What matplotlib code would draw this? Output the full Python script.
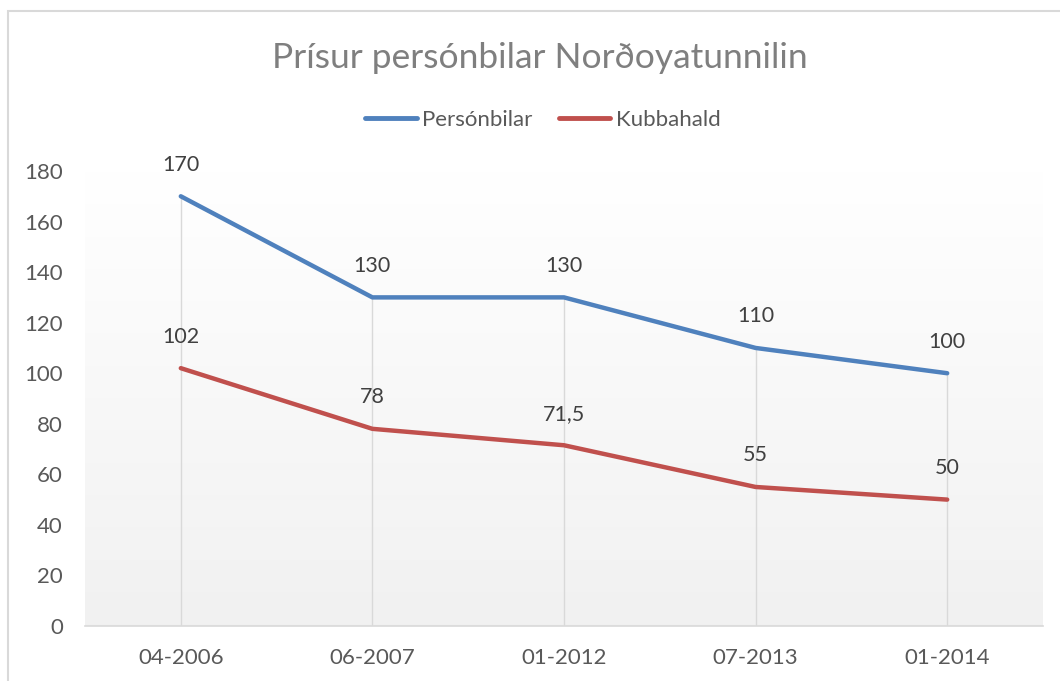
import matplotlib
matplotlib.use("Agg")
import matplotlib.pyplot as plt
import numpy as np
from matplotlib.patches import Rectangle
from matplotlib.lines import Line2D

categories = ["04-2006", "06-2007", "01-2012", "07-2013", "01-2014"]
personbilar = [170, 130, 130, 110, 100]
kubbahald = [102, 78, 71.5, 55, 50]
labels_p = ["170", "130", "130", "110", "100"]
labels_k = ["102", "78", "71,5", "55", "50"]
yticks = [0, 20, 40, 60, 80, 100, 120, 140, 160, 180]

plt.rcParams['font.family'] = ['Lato', 'DejaVu Sans']

W, H = 1060, 681
fig = plt.figure(figsize=(W / 100, H / 100), dpi=100)
fig.patch.set_facecolor("white")

# outer chart border
fig.add_artist(Rectangle((7.5 / W, -0.05), 1.2, 1 - 11.5 / H + 0.05,
                         transform=fig.transFigure, fill=False,
                         edgecolor="#D9D9D9", linewidth=1.5))

ax = fig.add_axes([85 / W, 1 - 626 / H, (1043 - 85) / W, (626 - 171) / H])
x = np.arange(len(categories))
ax.set_xlim(-0.5, len(categories) - 0.5)
ax.set_ylim(0, 180)

# gradient background
grad = np.linspace(0.945, 1.0, 256).reshape(-1, 1)
img = np.dstack([grad, grad, grad])
ax.imshow(img, extent=[-0.5, len(categories) - 0.5, 0, 180], origin="lower",
          aspect="auto", zorder=0)

# drop lines
for xi, yi in zip(x, personbilar):
    ax.plot([xi, xi], [0, yi], color="#D9D9D9", linewidth=1.0, zorder=1)

ax.plot(x, personbilar, color="#4F81BD", linewidth=3.2, solid_capstyle="round",
        solid_joinstyle="round", zorder=3, label="Persónbilar")
ax.plot(x, kubbahald, color="#C0504D", linewidth=3.2, solid_capstyle="round",
        solid_joinstyle="round", zorder=3, label="Kubbahald")

for xi, yi, t in zip(x, personbilar, labels_p):
    ax.annotate(t, (xi, yi), xytext=(0, 15.5), textcoords="offset points",
                ha="center", va="bottom", fontsize=15.5, color="#404040",
                annotation_clip=False)
for xi, yi, t in zip(x, kubbahald, labels_k):
    ax.annotate(t, (xi, yi), xytext=(0, 15.5), textcoords="offset points",
                ha="center", va="bottom", fontsize=15.5, color="#404040",
                annotation_clip=False)

for s in ["top", "right", "left"]:
    ax.spines[s].set_visible(False)
ax.spines["bottom"].set_color("#D9D9D9")
ax.spines["bottom"].set_linewidth(1.2)

ax.set_xticks(x)
ax.set_xticklabels(categories)
ax.set_yticks(yticks)
ax.set_yticklabels([str(v) for v in yticks])
ax.tick_params(axis="both", length=0, labelsize=16, colors="#595959")
ax.tick_params(axis="x", pad=16)
ax.tick_params(axis="y", pad=16)

fig.text(540 / W, 1 - 58 / H, "Prísur persónbilar Norðoyatunnilin",
         ha="center", va="center", fontsize=25.5, color="#7F7F7F")

handles = [Line2D([], [], color="#4F81BD", linewidth=3.5, solid_capstyle="round"),
           Line2D([], [], color="#C0504D", linewidth=3.5, solid_capstyle="round")]
leg = fig.legend(handles, ["Persónbilar", "Kubbahald"], loc="center",
                 bbox_to_anchor=(543 / W, 1 - 120 / H), ncol=2, frameon=False,
                 fontsize=16, handlelength=2.3, handletextpad=0.25,
                 columnspacing=1.2, labelcolor="#595959")

fig.savefig("out.png", dpi=100)
